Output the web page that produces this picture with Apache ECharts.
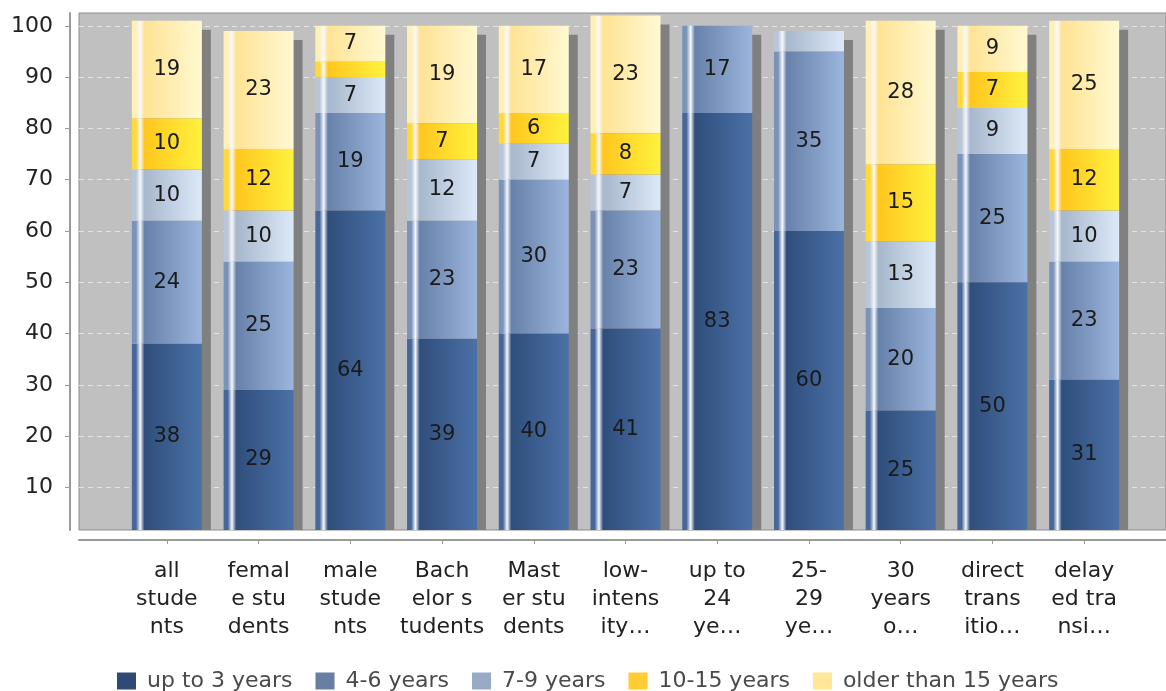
<!DOCTYPE html>
<html>
<head>
<meta charset="utf-8">
<script src="https://cdn.jsdelivr.net/npm/echarts@6/dist/echarts.min.js"></script>
<style>
html,body{margin:0;padding:0;background:#fff;}
#chart{width:1166px;height:691px;}
</style>
</head>
<body>
<div id="chart"></div>
<script>
// chart data
const categories=["all students","female students","male students","Bachelor students","Master students","low-intensity students","up to 24 years","25-29 years","30 years or older","direct transition","delayed transition"];
const tickLabels=["all\nstude\nnts","femal\ne stu\ndents","male\nstude\nnts","Bach\nelor s\ntudents","Mast\ner stu\ndents","low-\nintens\nity…","up to\n24\nye…","25-\n29\nye…","30\nyears\no…","direct\ntrans\nitio…","delay\ned tra\nnsi…"];
const seriesNames=["up to 3 years","4-6 years","7-9 years","10-15 years","older than 15 years"];
const upTo3=[38,29,64,39,40,41,83,60,25,50,31];
const years4to6=[24,25,19,23,30,23,17,35,20,25,23];
const years7to9=[10,10,7,12,7,7,0,4,13,9,10];
const years10to15=[10,12,3,7,6,8,0,0,15,7,12];
const olderThan15=[19,23,7,19,17,23,0,0,28,9,25];
const yTicks=[10,20,30,40,50,60,70,80,90,100];

const seriesValues=[upTo3,years4to6,years7to9,years10to15,olderThan15];
const totals=categories.map((c,i)=>seriesValues.reduce((s,arr)=>s+arr[i],0));

// [edge, dark, light] for the bar gradient, plus the flat legend colour
const barShades=[
    ["#46679a","#2f4e7b","#4b71a7"],
    ["#7b93b9","#6781aa","#9bb5dc"],
    ["#b8c6d8","#a7b7cc","#dce9f8"],
    ["#ffd83a","#ffc61e","#fff23e"],
    ["#fff0b8","#ffe394","#fff9d2"]
];
const legendColors=["#2f4b75","#687fa3","#99aac6","#ffcc33","#ffe699"];

function barGradient(shade){
    return new echarts.graphic.LinearGradient(0,0,1,0,[
        {offset:0,color:shade[0]},
        {offset:0.06,color:shade[0]},
        {offset:0.12,color:"#f6f8fb"},
        {offset:0.18,color:shade[1]},
        {offset:1,color:shade[2]}
    ]);
}

const FONT="DejaVu Sans";
const yMin=1.7;
const yMax=102.5;
const BAR_W=70;
const SHADOW_OFF=9;

const chart=echarts.init(document.getElementById("chart"),null,{renderer:"canvas"});

const series=seriesNames.map((name,i)=>({
    name:name,
    type:"bar",
    stack:"total",
    xAxisIndex:1,
    yAxisIndex:1,
    barWidth:BAR_W,
    z:3,
    data:seriesValues[i],
    itemStyle:{color:barGradient(barShades[i])},
    label:{
        show:true,
        position:"inside",
        fontFamily:FONT,
        fontSize:21,
        color:"#1a1a1a",
        formatter:p=>p.value>=5?String(p.value):""
    },
    emphasis:{disabled:true}
}));

// drop shadow behind each stacked bar
series.unshift({
    name:"shadow",
    type:"custom",
    xAxisIndex:1,
    yAxisIndex:1,
    z:2,
    silent:true,
    data:totals.map((t,i)=>[i,t]),
    renderItem(params,api){
        const top=api.coord([api.value(0),api.value(1)]);
        const bottom=api.coord([api.value(0),yMin]);
        const cs=params.coordSys;
        const shape=echarts.graphic.clipRectByRect(
            {x:top[0]-BAR_W/2+SHADOW_OFF,y:top[1]+SHADOW_OFF,width:BAR_W,height:bottom[1]-top[1]},
            {x:cs.x,y:cs.y,width:cs.width,height:cs.height}
        );
        return shape&&{type:"rect",shape:shape,style:{fill:"#808080"}};
    }
});

chart.setOption({
    animation:false,
    backgroundColor:"#ffffff",
    legend:{
        left:112,
        top:665,
        itemWidth:19,
        itemHeight:17,
        itemGap:23,
        icon:"rect",
        textStyle:{fontFamily:FONT,fontSize:22,color:"#4a4a4a",padding:[0,0,0,6]},
        data:seriesNames.map((n,i)=>({name:n,itemStyle:{color:legendColors[i]}}))
    },
    grid:[
        {left:79,right:-3,top:13,bottom:161,show:true,backgroundColor:"#c0c0c0",borderColor:"#8c8c8c",borderWidth:1},
        {left:121,right:36,top:13,bottom:161}
    ],
    xAxis:[
        {
            type:"category",
            gridIndex:0,
            data:[""],
            offset:10,
            axisLine:{show:true,lineStyle:{color:"#9a9a9a",width:2}},
            axisTick:{show:false},
            axisLabel:{show:false}
        },
        {
            type:"category",
            gridIndex:1,
            data:categories,
            offset:10,
            axisLine:{show:false},
            axisTick:{show:true,alignWithLabel:true,length:4,lineStyle:{color:"#9a9a9a",width:1}},
            axisLabel:{
                interval:0,
                margin:17,
                fontFamily:FONT,
                fontSize:22,
                lineHeight:28,
                color:"#222222",
                formatter:(v,idx)=>tickLabels[idx]
            }
        }
    ],
    yAxis:[
        {
            type:"value",
            gridIndex:0,
            min:yMin,
            max:yMax,
            offset:9,
            axisLine:{show:true,lineStyle:{color:"#9a9a9a",width:2}},
            axisTick:{show:true,length:5,customValues:yTicks,lineStyle:{color:"#9a9a9a",width:1}},
            axisLabel:{margin:17,customValues:yTicks,fontFamily:FONT,fontSize:22,color:"#222222"},
            splitLine:{show:true,customValues:yTicks,lineStyle:{color:"#e4e4e4",type:[5,4],width:1}}
        },
        {
            type:"value",
            gridIndex:1,
            min:yMin,
            max:yMax,
            show:false,
            splitLine:{show:false}
        }
    ],
    series:series
});
</script>
</body>
</html>
